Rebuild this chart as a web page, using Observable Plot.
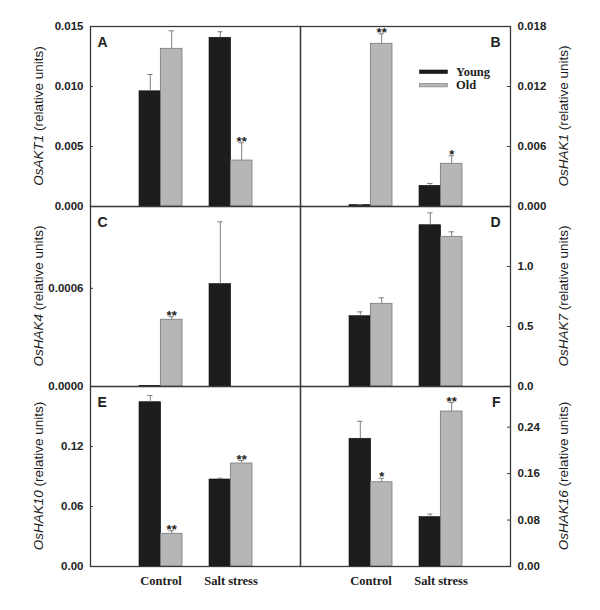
<!DOCTYPE html>
<html><head><meta charset="utf-8">
<script src="https://cdn.jsdelivr.net/npm/d3@7"></script>
<script src="https://cdn.jsdelivr.net/npm/@observablehq/plot@0.6"></script>
<style>
body{margin:0;background:#fff;}
#chart{position:relative;width:600px;height:610px;}
#chart svg{position:absolute;left:0;top:0;}
</style></head><body><div id="chart"></div>
<script>
// ---- data ----
const conditions = ["Control", "Salt stress"];
const seriesNames = ["Young", "Old"];
const genes = ["AKT1", "HAK1", "HAK4", "HAK7", "HAK10", "HAK16"];
const letters = ["A", "B", "C", "D", "E", "F"];
const youngMean = [[0.0096, 0.01406], [0.00015, 0.00207], [0.000004, 0.000626], [0.586, 1.344], [0.1643, 0.087], [0.220, 0.0851]];
const youngErr  = [[0.0014, 0.0005], [0.00003, 0.00023], [0, 0.00038], [0.036, 0.103], [0.0067, 0.0013], [0.030, 0.0052]];
const oldMean   = [[0.01314, 0.00383], [0.01627, 0.00427], [0.000408, 0], [0.689, 1.247], [0.0327, 0.103], [0.1451, 0.2669]];
const oldErr    = [[0.0015, 0.00148], [0.0010, 0.0008], [0.000019, 0], [0.050, 0.042], [0.003, 0.003], [0.0068, 0.0154]];
const oldSig    = [["", "**"], ["**", "*"], ["**", ""], ["", ""], ["**", "**"], ["*", "**"]];
const yMax = [0.015, 0.018, 0.0011, 1.5, 0.18, 0.31];
const yTicks = [[0, 0.005, 0.010, 0.015], [0, 0.006, 0.012, 0.018], [0, 0.0006], [0, 0.5, 1.0], [0, 0.06, 0.12], [0, 0.08, 0.16, 0.24]];
const tickFormats = [".3f", ".3f", ".4f", ".1f", ".2f", ".2f"];

// ---- layout ----
const W = 600, H = 610;
const colX = [90, 300, 510];
const rowY = [26, 206, 386, 566];
const padIn = 0.39, padOut = 0.695;
const bw = ((colX[1] - colX[0]) / (conditions.length - padIn + 2 * padOut)) * (1 - padIn);
const sans = "'Liberation Sans', Arial, sans-serif";
const serif = "'Liberation Serif', 'Times New Roman', serif";
const youngFill = "#1c1c1c", oldFill = "#b6b6b6", errColor = "#808080", lineColor = "#3a3a3a";

const chart = document.getElementById("chart");

genes.forEach((g, i) => {
  const col = i % 2, row = Math.floor(i / 2);
  const side = col ? "right" : "left";
  const young = conditions.map((c, j) => ({condition: c, mean: youngMean[i][j], err: youngErr[i][j]}));
  const old = conditions.map((c, j) => ({condition: c, mean: oldMean[i][j], err: oldErr[i][j], sig: oldSig[i][j]}));
  const inner = colX[col + 1] - colX[col];
  const marks = [
    Plot.barY(young.filter(d => d.mean > 0), {x: "condition", y: "mean", fill: youngFill, stroke: "#111", strokeWidth: 0.6, insetRight: bw / 2}),
    Plot.barY(old.filter(d => d.mean > 0), {x: "condition", y: "mean", fill: oldFill, stroke: "#7a7a7a", strokeWidth: 0.8, insetLeft: bw / 2}),
    Plot.ruleX(young.filter(d => d.err > 0), {x: "condition", y1: "mean", y2: d => d.mean + d.err, dx: -bw / 4, stroke: errColor, strokeWidth: 1}),
    Plot.ruleX(old.filter(d => d.err > 0), {x: "condition", y1: "mean", y2: d => d.mean + d.err, dx: bw / 4, stroke: errColor, strokeWidth: 1}),
    Plot.tickY(young.filter(d => d.err > 0), {x: "condition", y: d => d.mean + d.err, dx: -bw / 4, insetLeft: bw / 2 - 2.5, insetRight: bw / 2 - 2.5, stroke: errColor}),
    Plot.tickY(old.filter(d => d.err > 0), {x: "condition", y: d => d.mean + d.err, dx: bw / 4, insetLeft: bw / 2 - 2.5, insetRight: bw / 2 - 2.5, stroke: errColor}),
    Plot.text(old.filter(d => d.sig), {x: "condition", y: d => d.mean + d.err, text: "sig", dx: bw / 4, dy: -1, lineAnchor: "middle", fontSize: 13, fontWeight: "bold", fill: "#222", fontFamily: sans}),
    Plot.tickY(yTicks[i], {y: d => d, stroke: lineColor, strokeWidth: 1, insetLeft: col ? inner - 3 : 0, insetRight: col ? 0 : inner - 3}),
    Plot.axisY({ticks: yTicks[i], anchor: side, tickSize: 0, tickPadding: 7, tickFormat: d3.format(tickFormats[i]), fontSize: 11.5, fontWeight: "bold", fill: "#222", label: null}),
    Plot.text([letters[i]], {text: d => d, frameAnchor: col ? "top-right" : "top-left", dx: col ? -10 : 7, dy: 11, fontSize: 14, fontWeight: "bold", fill: "#222", fontFamily: sans}),
    Plot.frame({stroke: lineColor, strokeWidth: 1.3})
  ];
  if (row === 2) {
    marks.push(Plot.axisX({anchor: "bottom", tickSize: 0, tickPadding: 10, fontFamily: serif, fontWeight: "bold", fontSize: 12.5, fill: "#222", label: null}));
  }
  const p = Plot.plot({
    width: W, height: H,
    marginLeft: colX[col], marginRight: W - colX[col + 1],
    marginTop: rowY[row], marginBottom: H - rowY[row + 1],
    x: {domain: conditions, paddingInner: padIn, paddingOuter: padOut, axis: null},
    y: {domain: [0, yMax[i]]},
    style: {background: "transparent", fontFamily: sans, overflow: "visible"},
    marks
  });
  chart.appendChild(p);
});

// ---- annotations: axis titles and legend ----
const svg = d3.select(chart).append("svg").attr("width", W).attr("height", H)
  .style("position", "absolute").style("left", 0).style("top", 0).style("overflow", "visible");

genes.forEach((g, i) => {
  const col = i % 2, row = Math.floor(i / 2);
  const cx = col ? 563 : 38;
  const cy = (rowY[row] + rowY[row + 1]) / 2;
  const t = svg.append("text")
    .attr("transform", `translate(${cx},${cy}) rotate(-90)`)
    .attr("text-anchor", "middle").attr("dominant-baseline", "central")
    .attr("font-family", sans).attr("font-size", 13.5).attr("fill", "#1a1a1a");
  t.append("tspan").attr("font-style", "italic").text("Os" + g);
  t.append("tspan").text(" (relative units)");
});

const legendColors = [youngFill, oldFill];
const legendStroke = ["#111", "#7a7a7a"];
seriesNames.forEach((s, k) => {
  const y = 70 + k * 13.4;
  svg.append("rect").attr("x", 419.5).attr("y", y).attr("width", 28).attr("height", 3.5)
    .attr("fill", legendColors[k]).attr("stroke", legendStroke[k]).attr("stroke-width", 0.6);
  svg.append("text").attr("x", 456).attr("y", y + 6)
    .attr("font-family", serif).attr("font-weight", "bold").attr("font-size", 12.5).attr("fill", "#222")
    .text(s);
});
</script>
</body></html>
